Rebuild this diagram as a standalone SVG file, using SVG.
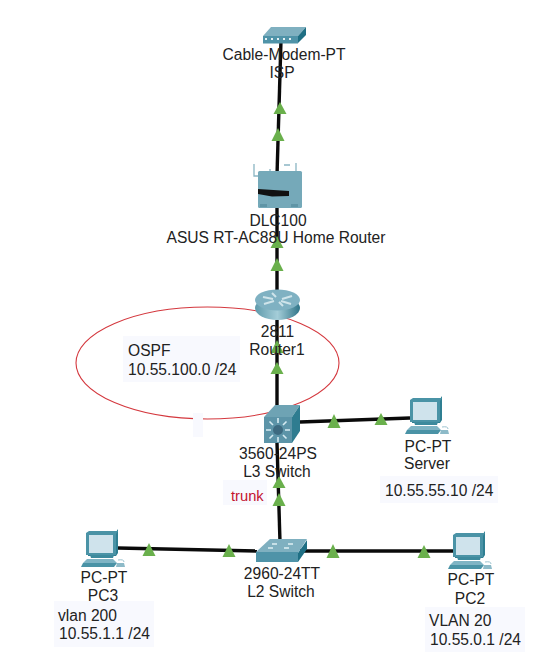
<svg xmlns="http://www.w3.org/2000/svg" width="536" height="657" viewBox="0 0 536 657">
<style>
text{font-family:"Liberation Sans",Arial,sans-serif;font-size:15.6px;fill:#222}
.c{text-anchor:middle}
.l{stroke:#0a0a0a;stroke-width:3.4;fill:none}
.t{fill:#6ab04c}
.bg{fill:#f8f9fe}
</style>
<defs>
<linearGradient id="rg" x1="0" y1="0" x2="1" y2="0"><stop offset="0" stop-color="#5f9aab"/><stop offset=".5" stop-color="#a4cdd8"/><stop offset="1" stop-color="#2f7488"/></linearGradient>
<g id="pc">
<path d="M88 532h28l2-3v24l-2 3H88z" fill="#2f7f92"/>
<path d="M86 533l3-2h29l-2 3v21H86z" fill="#4a93a6"/>
<rect x="89" y="535" width="24" height="18" fill="#cfe3ec"/>
<path d="M90 555h24l-1 3H91z" fill="#3d8a9d"/>
<path d="M87 559h26l4 4H83l4-4z" fill="#7fb4c4"/>
<path d="M83 563h34l-3 4H81z" fill="#4a93a6"/>
<path d="M118 560q6-1 6 2" fill="none" stroke="#9cc3cf" stroke-width="1"/>
<path d="M117 563h7l1 4h-9z" fill="#8dbac8"/>
</g>
</defs>

<rect class="bg" x="123" y="336" width="117" height="46"/>
<rect class="bg" x="193" y="413" width="10" height="24"/>
<rect class="bg" x="380" y="476" width="118" height="27"/>
<rect class="bg" x="223" y="480" width="44" height="25"/>
<rect class="bg" x="54" y="601" width="100" height="46"/>
<rect class="bg" x="425" y="607" width="100" height="45"/>

<ellipse id="ospf-area" cx="207.500" cy="363" rx="131.500" ry="56" fill="none" stroke="#d4383e" stroke-width="1.100"/>
<rect class="bg" x="193" y="416" width="10" height="6"/>

<g id="connectors">
<path class="l" d="M281 40L277 175"/>
<path class="l" d="M277 208L277 292"/>
<path class="l" d="M277 320L277 405"/>
<path class="l" d="M300 422L410 418"/>
<path class="l" d="M277 443L280 542"/>
<path class="l" d="M118 548L257 551"/>
<path class="l" d="M300 551L455 551"/>
<path class="t" d="M280 102l6.500 12h-13z"/>
<path class="t" d="M278 128l6.500 13h-13z"/>
<path class="t" d="M277 236l6.500 12h-13z"/>
<path class="t" d="M277 258l6.500 13h-13z"/>
<path class="t" d="M277 340l6.500 13h-13z"/>
<path class="t" d="M277 362l6.500 12h-13z"/>
<path class="t" d="M334 414l6.500 14h-13z"/>
<path class="t" d="M381 413l6.500 12h-13z"/>
<path class="t" d="M279 476l6.500 12h-13z"/>
<path class="t" d="M279 493l6.500 13h-13z"/>
<path class="t" d="M149 543l6.500 13h-13z"/>
<path class="t" d="M229 544l6.500 13h-13z"/>
<path class="t" d="M333 544l6.500 14h-13z"/>
<path class="t" d="M424 545l6.500 13h-13z"/>
</g>

<g id="isp">
<path d="M263 36L271 27H306L298 36z" fill="#7fb0c0"/>
<path d="M298 36L306 27V35L298 43z" fill="#1f6f84"/>
<rect x="263" y="36" width="35" height="7.500" fill="#4f93a8"/>
<g fill="#e6f2f5"><rect x="265" y="38" width="2" height="2"/><rect x="271" y="38" width="2" height="2"/><rect x="277" y="38" width="2" height="2"/><rect x="283" y="38" width="2" height="2"/><rect x="289" y="38" width="2" height="2"/></g>
</g>

<g id="dlc100">
<path d="M254 164V176H259M270 169V172M284 165H290M296 163V172" fill="none" stroke="#8ab5c3" stroke-width="1.300"/>
<rect x="258" y="171" width="44" height="37" rx="1.500" fill="#75a9b9"/>
<path d="M258 189L289 191V196L272 196.500 258 194z" fill="#111"/>
<rect x="260" y="204" width="7" height="3" fill="#5f95a6"/>
<rect x="291" y="204" width="7" height="3" fill="#5f95a6"/>
</g>

<g id="router1">
<ellipse cx="277.500" cy="308" rx="22.500" ry="12" fill="url(#rg)"/>
<ellipse cx="277.500" cy="300" rx="22.500" ry="10.500" fill="#7fb1c2"/>
<path d="M263 297l10 2M292 296l-10 3M264 304l10-3M291 304l-10-3M272 293l4 4M283 306l-4-4" stroke="#cfe4ea" stroke-width="2" fill="none"/>
</g>

<g id="l3-switch">
<path d="M264 417L275 405H300L292 417z" fill="#6ea3b4"/>
<path d="M292 417L300 405V431L292 443z" fill="#2f7c90"/>
<rect x="264" y="417" width="28" height="26" fill="#5c94a8"/>
<circle cx="278" cy="430" r="5" fill="#3d6a80"/>
<path d="M278 418v5M278 437v5M266 430h5M285 430h5M269.500 421.500l3.500 3.500M286.500 421.500l-3.500 3.500M269.500 438.500l3.500-3.500M286.500 438.500l-3.500-3.500" stroke="#d6ebf2" stroke-width="1.600" fill="none"/>
</g>

<g id="server"><use href="#pc" transform="translate(324,-133)"/></g>
<g id="pc3"><use href="#pc"/></g>
<g id="pc2"><use href="#pc" transform="translate(367,2)"/></g>

<g id="l2-switch">
<path d="M256 552L270 539H307L298 553z" fill="#7fb0c0"/>
<path d="M298 553L307 540V549L298 562z" fill="#1f6f84"/>
<path d="M256 552H298V562H256z" fill="#4f93a8"/>
<path d="M272 544h5M288 544h5M268 548h5M284 548h5" stroke="#dff0f4" stroke-width="1.500"/>
</g>

<g id="labels">
<text class="c" x="284" y="60">Cable-Modem-PT</text>
<text class="c" x="282" y="78">ISP</text>
<text class="c" x="278" y="226">DLC100</text>
<text class="c" x="276" y="243">ASUS RT-AC88U Home Router</text>
<text class="c" x="277.500" y="337">2811</text>
<text class="c" x="277" y="355">Router1</text>
<text x="128" y="356">OSPF</text>
<text x="128" y="375">10.55.100.0 /24</text>
<text class="c" x="278" y="459">3560-24PS</text>
<text class="c" x="277" y="477">L3 Switch</text>
<text class="c" x="428" y="452">PC-PT</text>
<text class="c" x="427" y="469">Server</text>
<text x="385" y="496">10.55.55.10 /24</text>
<text x="231" y="501" style="fill:#c4122f;font-size:14.700px">trunk</text>
<text class="c" x="104" y="583">PC-PT</text>
<text class="c" x="103" y="601">PC3</text>
<text x="58" y="621">vlan 200</text>
<text x="59" y="639">10.55.1.1 /24</text>
<text class="c" x="282" y="579">2960-24TT</text>
<text class="c" x="281" y="597">L2 Switch</text>
<text class="c" x="471" y="585">PC-PT</text>
<text class="c" x="470" y="604">PC2</text>
<text x="429" y="626">VLAN 20</text>
<text x="430" y="645">10.55.0.1 /24</text>
</g>
</svg>
